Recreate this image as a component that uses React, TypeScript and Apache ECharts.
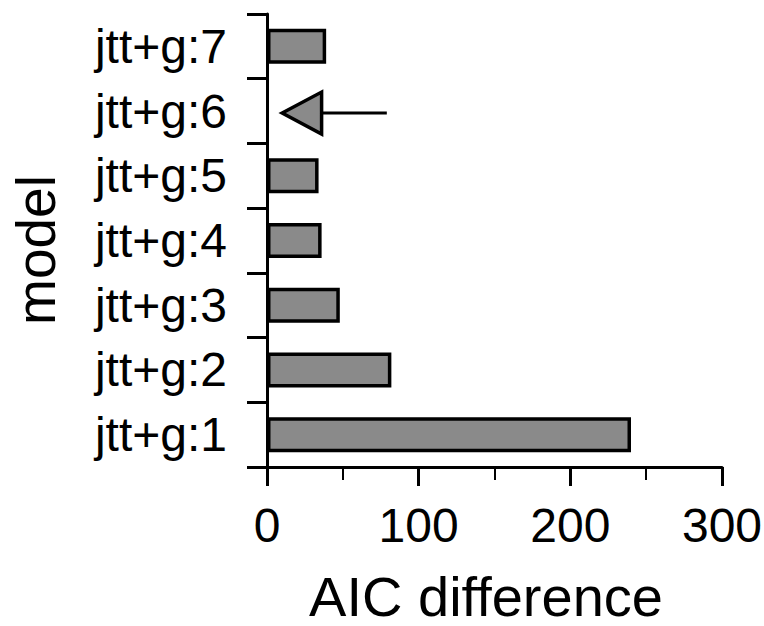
import React, { useEffect, useRef } from "react";
import * as echarts from "echarts";

const categories = ["jtt+g:1", "jtt+g:2", "jtt+g:3", "jtt+g:4", "jtt+g:5", "jtt+g:6", "jtt+g:7"];
const aicDiff = [240, 82, 48, 36, 34, 0, 39];
const xTicks = [0, 100, 200, 300];
const xTitle = "AIC difference";
const yTitle = "model";
// arrow annotation (data units along x), pointing at the best model
const arrowCategory = "jtt+g:6";
const arrowTip = 10;
const arrowBase = 36;
const arrowTail = 79;

const FONT = "'Liberation Sans', Arial, Helvetica, sans-serif";

export default function App() {
  const ref = useRef<HTMLDivElement>(null);
  useEffect(() => {
    if (!ref.current) return;
    const chart = echarts.init(ref.current, null, { renderer: "svg" });
    chart.setOption({
      animation: false,
      backgroundColor: "#ffffff",
      grid: { left: 267, right: 42, top: 14, bottom: 159, containLabel: false, outerBoundsMode: "none" },
      xAxis: {
        type: "value",
        min: xTicks[0],
        max: xTicks[xTicks.length - 1],
        interval: 100,
        axisLine: { show: true, lineStyle: { color: "#000", width: 3 } },
        axisTick: { show: true, length: 19, lineStyle: { color: "#000", width: 3 } },
        minorTick: { show: true, splitNumber: 2, length: 13, lineStyle: { color: "#000", width: 2 } },
        splitLine: { show: false },
        minorSplitLine: { show: false },
        axisLabel: { fontSize: 48, color: "#000", fontFamily: FONT, margin: 34 },
      },
      yAxis: {
        type: "category",
        data: categories,
        axisLine: { show: true, lineStyle: { color: "#000", width: 3 } },
        axisTick: { show: true, length: 20, lineStyle: { color: "#000", width: 3 } },
        splitLine: { show: false },
        axisLabel: { fontSize: 48, color: "#000", fontFamily: FONT, margin: 40 },
      },
      series: [
        {
          type: "bar",
          data: aicDiff.map((v) => (v === 0 ? { value: v, itemStyle: { borderWidth: 0 } } : v)),
          barWidth: 35,
          itemStyle: { color: "#8a8a8a", borderColor: "#000", borderWidth: 3.5 },
        },
      ],
    });

    const tip = chart.convertToPixel({ xAxisIndex: 0, yAxisIndex: 0 }, [arrowTip, arrowCategory]) as number[];
    const base = chart.convertToPixel({ xAxisIndex: 0, yAxisIndex: 0 }, [arrowBase, arrowCategory]) as number[];
    const tail = chart.convertToPixel({ xAxisIndex: 0, yAxisIndex: 0 }, [arrowTail, arrowCategory]) as number[];
    const cy = tip[1] + 2;
    const half = 21;
    chart.setOption({
      graphic: [
        {
          type: "line",
          shape: { x1: base[0], y1: cy, x2: tail[0], y2: cy },
          style: { stroke: "#000", lineWidth: 3 },
          z: 10,
        },
        {
          type: "polygon",
          shape: {
            points: [
              [tip[0], cy],
              [base[0], cy - half],
              [base[0], cy + half],
            ],
          },
          style: { fill: "#8a8a8a", stroke: "#000", lineWidth: 3.5, lineJoin: "miter" },
          z: 11,
        },
        {
          type: "text",
          x: 486,
          y: 596,
          style: {
            text: xTitle,
            fontSize: 56,
            lineHeight: 48,
            fontFamily: FONT,
            fill: "#000",
            align: "center",
            verticalAlign: "middle",
          },
          z: 12,
        },
        {
          type: "text",
          x: 36,
          y: 250,
          rotation: Math.PI / 2,
          style: {
            text: yTitle,
            fontSize: 55,
            lineHeight: 46,
            fontFamily: FONT,
            fill: "#000",
            align: "center",
            verticalAlign: "middle",
          },
          z: 12,
        },
      ],
    });

    return () => chart.dispose();
  }, []);
  return (
    <div
      ref={ref}
      style={{ position: "fixed", left: 0, top: 0, width: 764, height: 626, background: "#fff" }}
    />
  );
}
